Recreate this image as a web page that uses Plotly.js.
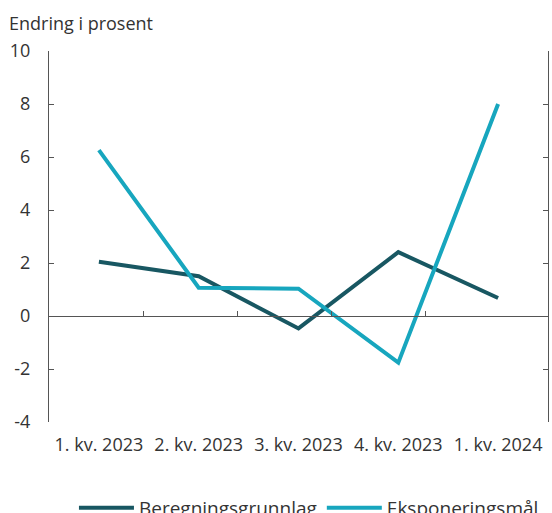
<!DOCTYPE html>
<html>
<head>
<meta charset="utf-8">
<script src="https://cdn.plot.ly/plotly-3.0.1.min.js"></script>
<style>
  html, body { margin: 0; padding: 0; background: #fff; overflow: hidden; }
  #chart { width: 552px; height: 530px; }
</style>
</head>
<body>
<div id="chart"></div>
<script>
const quarters = ["1. kv. 2023", "2. kv. 2023", "3. kv. 2023", "4. kv. 2023", "1. kv. 2024"];
const beregningsgrunnlag = [2.05, 1.5, -0.47, 2.41, 0.68];
const eksponeringsmaal = [6.26, 1.07, 1.03, -1.76, 8.0];
const seriesNames = ["Beregningsgrunnlag", "Eksponeringsmål"];
const yTicks = [-4, -2, 0, 2, 4, 6, 8, 10];
const yTickText = ["-4", "-2", "0", "2", "4", "6", "8", "10"];

const font = "Open Sans, sans-serif";

let data = [
    {
        x: quarters,
        y: beregningsgrunnlag,
        type: "scatter",
        mode: "lines",
        name: seriesNames[0],
        line: {color: "#185762", width: 4},
    },
    {
        x: quarters,
        y: eksponeringsmaal,
        type: "scatter",
        mode: "lines",
        name: seriesNames[1],
        line: {color: "#17a6be", width: 4},
    },
];

// dummy trace so the second x axis (ticks on the zero line) is drawn
data.push({x: [0], y: [0], xaxis: "x2", type: "scatter", mode: "markers",
    marker: {opacity: 0}, showlegend: false, hoverinfo: "skip"});

let layout = {
    width: 552,
    height: 530,
    margin: {l: 49, r: 4, t: 51, b: 108, autoexpand: false},
    paper_bgcolor: "#fff",
    plot_bgcolor: "#fff",
    font: {family: font, size: 18, color: "#333"},
    showlegend: true,
    legend: {
        orientation: "h",
        x: 0.05, xanchor: "left",
        y: -0.18, yanchor: "top",
        font: {size: 19, color: "#333"},
        itemwidth: 55,
    },
    xaxis: {
        type: "category",
        range: [-0.5, 4.5],
        showline: false,
        ticks: "",
        showgrid: false,
        zeroline: false,
        tickangle: 0,
        tickfont: {size: 18, color: "#333"},
        ticklabelstandoff: 10,
    },
    xaxis2: {
        overlaying: "x",
        anchor: "free",
        position: 4 / 14,
        range: [0, 5.3],
        tickvals: [1, 2, 3, 4],
        ticks: "inside",
        ticklen: 5,
        tickcolor: "#555",
        showticklabels: false,
        showline: true,
        linecolor: "#555",
        linewidth: 1,
        showgrid: false,
        zeroline: false,
    },
    yaxis: {
        range: [-4, 10],
        tickvals: yTicks,
        ticktext: yTickText,
        ticks: "inside",
        ticklen: 5,
        tickcolor: "#555",
        showline: true,
        linecolor: "#555",
        mirror: "ticks",
        showgrid: false,
        zeroline: false,
        tickfont: {size: 18, color: "#333"},
        ticklabelstandoff: 14,
    },
    annotations: [{
        text: "Endring i prosent",
        xref: "paper", yref: "paper",
        x: -0.085, y: 1.0,
        xanchor: "left", yanchor: "bottom",
        yshift: 14,
        showarrow: false,
        font: {size: 18, color: "#333"},
    }],
};

Plotly.newPlot("chart", data, layout, {staticPlot: true});
</script>
</body>
</html>
